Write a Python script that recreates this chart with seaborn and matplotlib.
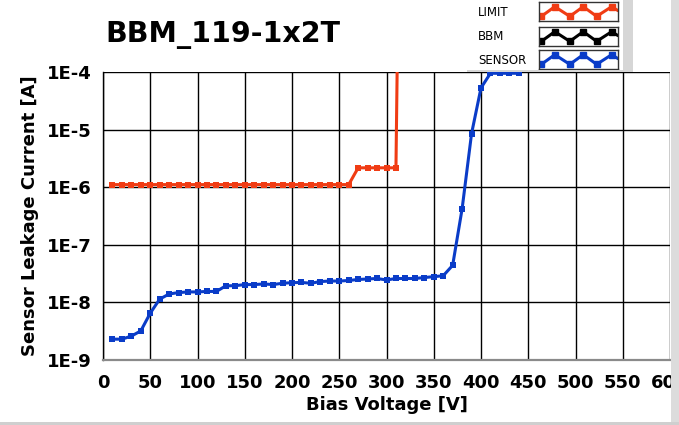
import numpy as np
import pandas as pd
import seaborn as sns
import matplotlib.pyplot as plt
from matplotlib.patches import Rectangle
from matplotlib.ticker import FixedLocator, NullLocator

# --- data ---
limit_v = [10, 20, 30, 40, 50, 60, 70, 80, 90, 100, 110, 120, 130, 140, 150,
           160, 170, 180, 190, 200, 210, 220, 230, 240, 250, 260,
           270, 280, 290, 300, 310, 312]
limit_i = [1.11e-6, 1.11e-6, 1.11e-6, 1.11e-6, 1.11e-6, 1.11e-6, 1.11e-6,
           1.11e-6, 1.11e-6, 1.11e-6, 1.11e-6, 1.11e-6, 1.11e-6, 1.11e-6,
           1.11e-6, 1.11e-6, 1.11e-6, 1.11e-6, 1.11e-6, 1.11e-6, 1.11e-6,
           1.11e-6, 1.11e-6, 1.11e-6, 1.11e-6, 1.11e-6,
           2.17e-6, 2.17e-6, 2.17e-6, 2.17e-6, 2.17e-6, 1.0e-3]

sensor_v = [10, 20, 30, 40, 50, 60, 70, 80, 90, 100, 110, 120, 130, 140, 150,
            160, 170, 180, 190, 200, 210, 220, 230, 240, 250, 260, 270, 280,
            290, 300, 310, 320, 330, 340, 350, 360, 370, 380, 390, 400, 410,
            420, 430, 440]
sensor_i = [2.3e-9, 2.3e-9, 2.6e-9, 3.2e-9, 6.5e-9, 1.14e-8, 1.4e-8, 1.48e-8,
            1.52e-8, 1.52e-8, 1.55e-8, 1.55e-8, 1.94e-8, 1.95e-8, 2.04e-8,
            2.04e-8, 2.09e-8, 2.04e-8, 2.15e-8, 2.2e-8, 2.22e-8, 2.15e-8,
            2.3e-8, 2.35e-8, 2.35e-8, 2.4e-8, 2.5e-8, 2.55e-8, 2.6e-8,
            2.45e-8, 2.6e-8, 2.6e-8, 2.6e-8, 2.7e-8, 2.8e-8, 2.9e-8, 4.4e-8,
            4.2e-7, 8.5e-6, 5.3e-5, 9.5e-5, 9.5e-5, 9.5e-5, 9.5e-5]

series_names = ["LIMIT", "BBM", "SENSOR"]
series_colors = {"LIMIT": "#F03C14", "BBM": "#000000", "SENSOR": "#0A3CC8"}

x_ticks = [0, 50, 100, 150, 200, 250, 300, 350, 400, 450, 500, 550, 600]
y_ticks = [1e-9, 1e-8, 1e-7, 1e-6, 1e-5, 1e-4]
y_labels = ["1E-9", "1E-8", "1E-7", "1E-6", "1E-5", "1E-4"]

title = "BBM_119-1x2T"

df = pd.concat([
    pd.DataFrame({"V": limit_v, "I": limit_i, "series": "LIMIT"}),
    pd.DataFrame({"V": sensor_v, "I": sensor_i, "series": "SENSOR"}),
], ignore_index=True)

sns.set_style("white")
plt.rcParams["font.family"] = ["DejaVu Sans"]
plt.rcParams["text.color"] = "black"
plt.rcParams["axes.labelcolor"] = "black"
plt.rcParams["xtick.color"] = "black"
plt.rcParams["ytick.color"] = "black"

W, H = 679, 425
fig = plt.figure(figsize=(W / 100, H / 100), dpi=100)
fig.patch.set_facecolor("white")

ax = fig.add_axes([103 / W, 1 - 360 / H, (670 - 103) / W, (360 - 72) / H])

sns.lineplot(
    data=df, x="V", y="I", hue="series", palette=series_colors,
    marker="s", markersize=4.5, markeredgewidth=0, linewidth=2.2,
    legend=False, ax=ax, sort=False, estimator=None,
)

ax.set_yscale("log")
ax.set_xlim(0, 600)
ax.set_ylim(1e-9, 1e-4)
ax.xaxis.set_major_locator(FixedLocator(x_ticks))
ax.yaxis.set_major_locator(FixedLocator(y_ticks))
ax.yaxis.set_minor_locator(NullLocator())
ax.set_xticklabels([str(t) for t in x_ticks])
ax.set_yticklabels(y_labels)

ax.grid(True, color="black", linewidth=1)
ax.set_axisbelow(True)
for s in ["top", "right"]:
    ax.spines[s].set_visible(False)
ax.spines["left"].set_color("black")
ax.spines["left"].set_linewidth(1)
ax.spines["bottom"].set_color("#8a8a8a")
ax.spines["bottom"].set_linewidth(1.6)

ax.tick_params(axis="both", which="major", direction="out", length=5,
               width=1, color="#444444", labelsize=13, pad=3,
               labelcolor="black")
ax.tick_params(axis="x", pad=5)
for lab in ax.get_xticklabels() + ax.get_yticklabels():
    lab.set_fontweight("bold")

ax.set_xlabel("Bias Voltage [V]", fontsize=13, fontweight="bold", labelpad=3)
ax.set_ylabel("Sensor Leakage Current [A]", fontsize=13, fontweight="bold",
              labelpad=6)

fig.text(105 / W, 1 - 35 / H, title, fontsize=20.5, fontweight="bold",
         ha="left", va="center", color="black")

# legend panel (LabVIEW style: label + boxed zigzag swatch)
zig_x = [0.03, 0.2, 0.39, 0.56, 0.73, 0.92, 1.0]
zig_y = [0.22, 0.78, 0.22, 0.78, 0.22, 0.78, 0.55]
box_top = [2, 27, 50]
for name, top in zip(series_names, box_top):
    fig.text(478 / W, 1 - (top + 10) / H, name, fontsize=8.5,
             ha="left", va="center", color="black")
    sw = fig.add_axes([539 / W, 1 - (top + 19) / H, 79 / W, 19 / H])
    sw.plot(zig_x, zig_y, color=series_colors[name], lw=2.2)
    sw.plot(zig_x[:-1], zig_y[:-1], ls="none", marker="s", markersize=4,
            color=series_colors[name])
    sw.set_xlim(0, 1)
    sw.set_ylim(-0.05, 1.05)
    sw.set_xticks([])
    sw.set_yticks([])
    for s in sw.spines.values():
        s.set_color("#333333")
        s.set_linewidth(1)

# panel shadows / frame strips
fig.add_artist(Rectangle((623 / W, 1 - 72 / H), 10 / W, 72 / H,
                         transform=fig.transFigure, facecolor="#d6d6d6",
                         edgecolor="none"))
fig.add_artist(Rectangle((467 / W, 1 - 72 / H), 166 / W, 2 / H,
                         transform=fig.transFigure, facecolor="#d6d6d6",
                         edgecolor="none"))
fig.add_artist(Rectangle((671 / W, 0), 8 / W, 1,
                         transform=fig.transFigure, facecolor="#dcdcdc",
                         edgecolor="none", zorder=10))
fig.add_artist(Rectangle((0, 0), 1, 3 / H,
                         transform=fig.transFigure, facecolor="#cfcfcf",
                         edgecolor="none", zorder=10))

fig.savefig("out.png", dpi=100)
